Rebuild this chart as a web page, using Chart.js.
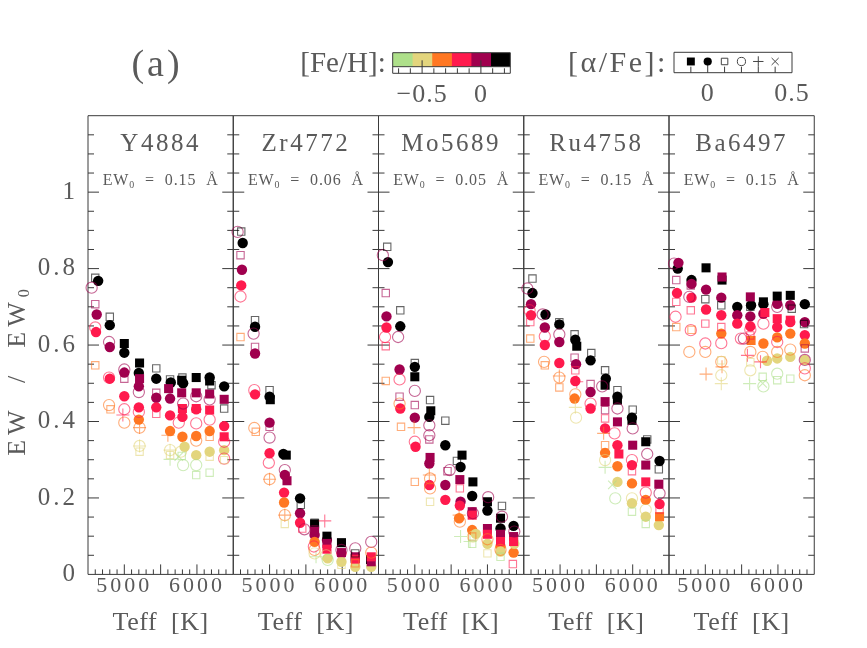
<!DOCTYPE html>
<html>
<head>
<meta charset="utf-8">
<script src="https://cdn.jsdelivr.net/npm/chart.js@4.4.1/dist/chart.umd.min.js"></script>
<style>
html, body { margin: 0; padding: 0; background: #fff; }
#wrap { position: relative; width: 867px; height: 648px; overflow: hidden; font-family: 'Liberation Serif', serif; color: #5a5a5a; }
#wrap canvas { position: absolute; left: 0; top: 0; }
.t { position: absolute; transform: translate(-50%, -50%); white-space: pre; line-height: 1; }
.t sub { font-size: 0.62em; vertical-align: -0.25em; }
</style>
</head>
<body>
<div id="wrap"></div>
<script>
// ---- categories / ticks ----
const PANEL_NAMES = ['Y4884', 'Zr4772', 'Mo5689', 'Ru4758', 'Ba6497'];
const PANEL_EW0 = ['0.15', '0.06', '0.05', '0.15', '0.15'];
const FEH_CODES = ['g', 'y', 'o', 'r', 'p', 'k'];
const FEH_VALUES = [-0.667, -0.5, -0.333, -0.167, 0, 0.167];
const FEH_COLORS = ['#aee08a', '#e3d57d', '#ff7722', '#ff1a4d', '#a0004e', '#000000'];
const FEH_TICKS = [-0.5, 0];
const ALPHA_CODES = ['S', 'C', 's', 'o', '+', 'x'];
const ALPHA_VALUES = [-0.1, 0, 0.1, 0.2, 0.3, 0.4];
const ALPHA_TICKS = [0, 0.5];
const TEFF_TICKS = [5000, 6000];
const EW_TICKS = [0, 0.2, 0.4, 0.6, 0.8, 1];

// ---- data: [Teff, EW/EW0, colour+marker code] ----
const Y4884 = [
  [4600,0.776,'ks'],[4640,0.768,'kC'],[4550,0.75,'po'],[4600,0.707,'ps'],[4620,0.68,'pC'],[4600,0.646,'ro'],[4610,0.634,'rC'],[4600,0.547,'os'],
  [4800,0.674,'ks'],[4800,0.652,'kC'],[4790,0.608,'po'],[4800,0.595,'pC'],[4790,0.515,'ro'],[4800,0.512,'rC'],[4790,0.443,'oo'],[4810,0.432,'os'],
  [5000,0.604,'kS'],[5000,0.58,'kC'],[5000,0.536,'po'],[5000,0.528,'pC'],[5000,0.512,'ps'],[5000,0.466,'rC'],[5000,0.432,'ro'],[4980,0.417,'r+'],[5000,0.397,'oo'],
  [5210,0.553,'kS'],[5200,0.527,'kC'],[5210,0.512,'pS'],[5200,0.492,'pC'],[5200,0.477,'po'],[5200,0.437,'rC'],[5200,0.425,'ro'],[5200,0.405,'oC'],[5210,0.384,'oo'],[5210,0.384,'o+'],[5210,0.336,'yo'],[5210,0.336,'y+'],[5210,0.321,'ys'],
  [5440,0.539,'ks'],[5440,0.512,'kC'],[5440,0.475,'ps'],[5440,0.462,'pC'],[5440,0.437,'rC'],[5440,0.42,'rs'],
  [5630,0.51,'ks'],[5640,0.502,'kC'],[5610,0.486,'pS'],[5630,0.46,'pC'],[5630,0.416,'rC'],[5630,0.375,'oC'],[5600,0.364,'o+'],[5630,0.325,'yo'],[5630,0.325,'y+'],[5630,0.312,'ys'],[5630,0.301,'g+'],
  [5800,0.515,'ks'],[5790,0.508,'kS'],[5810,0.5,'kC'],[5790,0.475,'pS'],[5810,0.447,'po'],[5800,0.434,'rS'],[5800,0.412,'rC'],[5750,0.397,'ro'],[5800,0.36,'oC'],[5830,0.334,'yC'],[5780,0.321,'yo'],[5750,0.308,'gx'],[5790,0.31,'gs'],[5810,0.286,'go'],
  [5990,0.515,'kS'],[5990,0.475,'pS'],[5990,0.466,'po'],[5990,0.434,'rS'],[5990,0.432,'rC'],[5990,0.395,'ro'],[5990,0.362,'oC'],[5990,0.35,'oo'],[5990,0.312,'yC'],[5990,0.286,'go'],[5990,0.26,'gs'],
  [6175,0.515,'kC'],[6175,0.506,'kS'],[6200,0.495,'ks'],[6175,0.472,'pS'],[6175,0.458,'po'],[6175,0.43,'rS'],[6175,0.405,'ro'],[6175,0.375,'oC'],[6175,0.36,'os'],[6175,0.321,'yC'],[6175,0.308,'ys'],[6175,0.266,'gs'],
  [6375,0.492,'kC'],[6375,0.458,'pS'],[6375,0.434,'ks'],[6375,0.388,'rC'],[6375,0.36,'rS'],[6375,0.347,'ro'],[6375,0.325,'yC'],[6375,0.303,'ro'],[6375,0.299,'ys']
];
const ZR4772 = [
  [4560,0.896,'po'],[4610,0.897,'ks'],[4630,0.867,'kC'],[4600,0.835,'ps'],[4620,0.797,'pC'],[4610,0.756,'rC'],[4600,0.727,'ro'],[4600,0.621,'os'],
  [4800,0.665,'ks'],[4800,0.648,'kC'],[4780,0.63,'po'],[4800,0.595,'ps'],[4800,0.578,'pC'],[4790,0.482,'ro'],[4800,0.471,'rC'],[4790,0.383,'oo'],[4810,0.373,'os'],
  [5000,0.482,'ks'],[5000,0.465,'kC'],[5010,0.457,'kS'],[5000,0.397,'pC'],[5000,0.386,'ps'],[5000,0.358,'po'],[5000,0.317,'rC'],[4990,0.292,'ro'],[5000,0.249,'oo'],[5000,0.249,'o+'],
  [5190,0.315,'kC'],[5230,0.312,'kS'],[5210,0.273,'po'],[5210,0.26,'pC'],[5240,0.245,'pS'],[5200,0.214,'rC'],[5200,0.188,'oC'],[5210,0.155,'oo'],[5210,0.155,'o+'],[5210,0.132,'ys'],
  [5420,0.199,'kC'],[5430,0.182,'ks'],[5420,0.16,'pC'],[5420,0.135,'rC'],[5450,0.12,'rs'],[5480,0.118,'po'],
  [5620,0.135,'ks'],[5620,0.132,'kS'],[5620,0.116,'pS'],[5620,0.103,'pC'],[5760,0.14,'r+'],[5620,0.085,'oC'],[5610,0.073,'ro'],[5620,0.064,'oo'],[5620,0.055,'yo'],[5640,0.046,'g+'],
  [5790,0.1,'kS'],[5790,0.09,'pC'],[5790,0.081,'pS'],[5790,0.066,'rS'],[5780,0.05,'yo'],[5800,0.042,'yC'],[5800,0.038,'go'],
  [5990,0.083,'kS'],[5990,0.064,'po'],[5990,0.057,'pS'],[5990,0.055,'rC'],[5990,0.033,'yC'],[5990,0.025,'ys'],
  [6180,0.068,'po'],[6180,0.055,'ks'],[6180,0.046,'pS'],[6180,0.042,'kS'],[6180,0.04,'rS'],[6180,0.029,'os'],[6180,0.02,'yC'],
  [6400,0.085,'po'],[6400,0.057,'oo'],[6400,0.046,'rS'],[6390,0.039,'kS'],[6400,0.033,'pS'],[6400,0.02,'yC']
];
const MO5689 = [
  [4620,0.857,'ks'],[4560,0.835,'po'],[4630,0.817,'kC'],[4600,0.736,'ps'],[4610,0.675,'pC'],[4610,0.646,'rC'],[4590,0.621,'ro'],[4600,0.597,'rs'],[4600,0.506,'os'],
  [4800,0.691,'ks'],[4800,0.649,'kC'],[4770,0.621,'po'],[4790,0.536,'pC'],[4790,0.51,'ro'],[4790,0.465,'ps'],[4790,0.447,'oo'],[4800,0.434,'rC'],[4810,0.386,'os'],
  [5000,0.553,'ks'],[5000,0.543,'kC'],[5000,0.517,'kS'],[5000,0.48,'po'],[5000,0.443,'ps'],[5000,0.41,'pC'],[4990,0.384,'o+'],[5000,0.347,'ro'],[5010,0.334,'rC'],[5000,0.242,'os'],
  [5210,0.456,'ks'],[5220,0.428,'kS'],[5200,0.412,'kC'],[5200,0.39,'po'],[5200,0.364,'po'],[5200,0.353,'ps'],[5210,0.306,'pS'],[5200,0.29,'pC'],[5200,0.26,'o+'],[5210,0.251,'oo'],[5200,0.234,'rC'],[5210,0.225,'oo'],[5210,0.19,'ys'],
  [5420,0.402,'ks'],[5420,0.338,'kC'],[5480,0.273,'po'],[5450,0.27,'ps'],[5420,0.234,'pC'],[5420,0.195,'rC'],
  [5650,0.312,'kS'],[5630,0.281,'kC'],[5580,0.297,'ks'],[5620,0.248,'pS'],[5620,0.225,'rs'],[5630,0.19,'pC'],[5620,0.18,'rC'],[5610,0.155,'o+'],[5610,0.147,'oC'],[5620,0.138,'oo'],[5630,0.099,'g+'],
  [5800,0.242,'kS'],[5790,0.205,'kC'],[5800,0.16,'po'],[5790,0.164,'pS'],[5790,0.155,'rS'],[5790,0.116,'oC'],[5840,0.106,'yC'],[5800,0.099,'yo'],[5790,0.099,'os'],[5760,0.086,'g+'],[5790,0.08,'gs'],
  [6010,0.202,'po'],[6000,0.19,'kS'],[6000,0.167,'kC'],[6000,0.12,'pS'],[6000,0.105,'rS'],[6000,0.092,'oo'],[6000,0.08,'yC'],[6000,0.055,'ys'],
  [6200,0.179,'ks'],[6200,0.151,'po'],[6180,0.147,'kS'],[6180,0.12,'kC'],[6180,0.105,'pS'],[6180,0.086,'rS'],[6180,0.073,'oC'],[6180,0.064,'oo'],[6180,0.06,'yC'],[6180,0.046,'gs'],
  [6360,0.127,'kC'],[6370,0.112,'po'],[6360,0.099,'pS'],[6360,0.086,'rS'],[6370,0.08,'yC'],[6360,0.057,'oC'],[6350,0.027,'rs']
];
const RU4758 = [
  [4620,0.774,'ks'],[4550,0.748,'po'],[4620,0.736,'kC'],[4600,0.707,'pC'],[4580,0.691,'ro'],[4600,0.678,'rC'],[4590,0.66,'rs'],[4590,0.617,'os'],
  [4760,0.68,'po'],[4800,0.68,'kC'],[4790,0.646,'pC'],[4790,0.623,'ro'],[4790,0.6,'rC'],[4780,0.556,'oo'],[4790,0.547,'os'],
  [4990,0.66,'ks'],[4990,0.654,'kC'],[4990,0.628,'po'],[4990,0.608,'pC'],[4990,0.553,'rC'],[4990,0.519,'o+'],[4990,0.515,'oo'],[4990,0.489,'os'],
  [5200,0.628,'ks'],[5210,0.614,'kC'],[5230,0.597,'kS'],[5200,0.567,'ps'],[5220,0.55,'pC'],[5210,0.534,'rs'],[5210,0.506,'rC'],[5230,0.504,'r+'],[5210,0.471,'oo'],[5200,0.46,'oC'],[5210,0.437,'y+'],[5220,0.41,'yo'],
  [5430,0.579,'ks'],[5420,0.56,'kC'],[5420,0.498,'ps'],[5420,0.477,'pC'],[5420,0.447,'ro'],[5420,0.434,'rC'],
  [5620,0.534,'ks'],[5630,0.512,'kC'],[5620,0.495,'kS'],[5580,0.492,'po'],[5620,0.452,'pS'],[5620,0.43,'ps'],[5620,0.408,'rs'],[5620,0.382,'rC'],[5600,0.369,'o+'],[5620,0.338,'os'],[5620,0.318,'oC'],[5620,0.299,'yo'],[5620,0.28,'g+'],
  [5790,0.482,'ks'],[5790,0.465,'kC'],[5790,0.456,'kS'],[5790,0.434,'po'],[5790,0.399,'pS'],[5750,0.369,'ro'],[5790,0.338,'rC'],[5810,0.315,'rS'],[5790,0.283,'oC'],[5790,0.242,'yC'],[5720,0.234,'gx'],[5760,0.199,'go'],
  [6000,0.431,'ks'],[5990,0.41,'kC'],[5990,0.403,'kS'],[6000,0.382,'po'],[6000,0.338,'pS'],[5990,0.299,'ro'],[5990,0.286,'rC'],[5990,0.27,'rs'],[5990,0.238,'oC'],[5990,0.199,'yo'],[5990,0.186,'yC'],[5990,0.164,'gs'],
  [6200,0.353,'ks'],[6180,0.347,'kS'],[6200,0.315,'po'],[6180,0.286,'pS'],[6180,0.242,'rS'],[6180,0.214,'ro'],[6180,0.195,'oC'],[6180,0.169,'yo'],[6180,0.151,'yC'],[6180,0.132,'gs'],
  [6370,0.297,'kC'],[6360,0.275,'ks'],[6360,0.236,'pS'],[6370,0.212,'po'],[6370,0.184,'rC'],[6370,0.17,'rs'],[6370,0.151,'oS'],[6360,0.129,'yC']
];
const BA6497 = [
  [4630,0.815,'pC'],[4570,0.813,'po'],[4620,0.8,'kC'],[4600,0.77,'ps'],[4610,0.736,'rC'],[4600,0.713,'rs'],[4590,0.674,'ro'],[4600,0.647,'os'],
  [4810,0.77,'kC'],[4810,0.76,'pC'],[4800,0.756,'ps'],[4780,0.726,'po'],[4810,0.724,'rC'],[4800,0.691,'rs'],[4800,0.639,'ro'],[4810,0.64,'os'],[4780,0.582,'oo'],
  [5010,0.802,'kS'],[5010,0.745,'pC'],[5000,0.72,'ks'],[5010,0.693,'rC'],[5000,0.656,'rs'],[5000,0.604,'ro'],[5000,0.582,'oo'],[5010,0.524,'o+'],
  [5230,0.778,'pS'],[5230,0.77,'kS'],[5220,0.724,'pC'],[5220,0.704,'ks'],[5220,0.678,'rC'],[5220,0.647,'rs'],[5220,0.63,'oC'],[5220,0.605,'ro'],[5220,0.56,'ys'],[5220,0.556,'oo'],[5230,0.543,'o+'],[5220,0.521,'yo'],[5220,0.499,'y+'],
  [5440,0.7,'kC'],[5440,0.678,'pC'],[5440,0.656,'rC'],[5490,0.617,'ro'],[5530,0.617,'po'],
  [5620,0.726,'pS'],[5630,0.704,'kC'],[5620,0.7,'ks'],[5620,0.675,'pC'],[5620,0.649,'rC'],[5620,0.64,'ro'],[5620,0.625,'rs'],[5630,0.612,'oS'],[5620,0.582,'oo'],[5580,0.573,'r+'],[5620,0.555,'ys'],[5620,0.534,'yo'],[5610,0.499,'g+'],
  [5800,0.713,'kS'],[5800,0.707,'kC'],[5820,0.685,'rS'],[5800,0.682,'pC'],[5800,0.656,'ro'],[5800,0.604,'oC'],[5790,0.569,'oo'],[5760,0.556,'r+'],[5850,0.559,'yC'],[5790,0.517,'gs'],[5790,0.5,'gx'],[5800,0.492,'go'],
  [5990,0.728,'kS'],[5990,0.708,'pC'],[5990,0.7,'po'],[5990,0.669,'rS'],[5990,0.647,'rC'],[5990,0.62,'oC'],[5990,0.608,'ro'],[5990,0.582,'oo'],[5990,0.565,'yC'],[5990,0.525,'go'],[5990,0.508,'gs'],
  [6170,0.73,'kS'],[6170,0.704,'pC'],[6190,0.695,'ks'],[6170,0.665,'rS'],[6170,0.66,'rC'],[6170,0.63,'oC'],[6170,0.588,'oo'],[6170,0.569,'yC'],[6170,0.512,'gs'],
  [6370,0.707,'kC'],[6370,0.66,'pC'],[6360,0.655,'ks'],[6370,0.626,'rC'],[6370,0.604,'oC'],[6370,0.591,'ps'],[6370,0.561,'po'],[6370,0.561,'yC'],[6370,0.539,'ro'],[6370,0.521,'oo']
];
const PANEL_DATA = [Y4884, ZR4772, MO5689, RU4758, BA6497];

// ---- layout ----
const W = 867, H = 648;
const PANEL_LEFT = 88, PANEL_W = 145.25, PANEL_TOP = 115.7, PANEL_BOTTOM = 574.4;
const AXIS_H = 40, AXIS_W = 70;   // fixed axis box sizes so chart areas land exactly
const FONT = "'Liberation Serif', serif";
const TEXT = '#5a5a5a';

const MARK = {
  S: { style: 'rect', r: 6.4, fill: true },
  C: { style: 'circle', r: 5.2, fill: true },
  s: { style: 'rect', r: 5.2, fill: false },
  o: { style: 'circle', r: 5.6, fill: false },
  '+': { style: 'cross', r: 6.5, fill: false },
  x: { style: 'crossRot', r: 6, fill: false }
};

function fade(hex, a) {
  const n = parseInt(hex.slice(1), 16);
  return `rgba(${n >> 16},${(n >> 8) & 255},${n & 255},${a})`;
}

function buildDatasets(rows) {
  const out = [];
  for (const m of ['s', 'o', '+', 'x', 'S', 'C']) {
    for (let f = 0; f < FEH_CODES.length; f++) {
      const code = FEH_CODES[f] + m;
      const pts = rows.filter(r => r[2] === code).map(r => ({ x: r[0], y: r[1] }));
      if (!pts.length) continue;
      const st = MARK[m];
      const col = st.fill ? FEH_COLORS[f] : fade(FEH_COLORS[f], 0.6);
      out.push({
        data: pts, clip: false,
        pointStyle: st.style, pointRadius: st.r,
        pointBackgroundColor: st.fill ? col : 'rgba(0,0,0,0)',
        pointBorderColor: col, pointBorderWidth: st.fill ? 0 : 1.1
      });
    }
  }
  return out;
}

// wide Hershey-like spacing for tick labels
const spacedText = px => ({
  id: 'spacedText',
  beforeDraw(chart) { chart.ctx.letterSpacing = px + 'px'; }
});

// frame + inward ticks (left, right, bottom)
const panelFrame = {
  id: 'panelFrame',
  beforeDatasetsDraw(chart) {
    const { ctx, chartArea: a, scales: { x, y } } = chart;
    ctx.save();
    ctx.strokeStyle = '#3a3a3a';
    ctx.lineWidth = 1;
    ctx.beginPath();
    ctx.rect(a.left, a.top, a.right - a.left, a.bottom - a.top);
    for (let t = 4600; t <= 6400; t += 100) {
      const px = x.getPixelForValue(t);
      const len = t % 500 === 0 ? 10 : 5;
      ctx.moveTo(px, a.bottom); ctx.lineTo(px, a.bottom - len);
    }
    for (let k = 1; k < 24; k++) {
      const py = y.getPixelForValue(k * 0.05);
      const len = k % 4 === 0 ? 11 : 6;
      ctx.moveTo(a.left, py); ctx.lineTo(a.left + len, py);
      ctx.moveTo(a.right, py); ctx.lineTo(a.right - len, py);
    }
    ctx.stroke();
    ctx.restore();
  }
};

const wrap = document.getElementById('wrap');
function addCanvas() {
  const c = document.createElement('canvas');
  c.width = W; c.height = H;
  wrap.appendChild(c);
  return c;
}
function addText(html, x, y, size, extra) {
  const d = document.createElement('div');
  d.className = 't';
  d.innerHTML = html;
  d.style.left = x + 'px';
  d.style.top = y + 'px';
  d.style.fontSize = size + 'px';
  if (extra) Object.assign(d.style, extra);
  wrap.appendChild(d);
  return d;
}

// ---- panels ----
PANEL_NAMES.forEach((name, i) => {
  const left = PANEL_LEFT + i * PANEL_W;
  const right = left + PANEL_W;
  new Chart(addCanvas(), {
    type: 'scatter',
    data: { datasets: buildDatasets(PANEL_DATA[i]) },
    options: {
      responsive: false, animation: false, events: [],
      layout: { padding: { left: left - AXIS_W, right: W - right, top: PANEL_TOP, bottom: H - PANEL_BOTTOM - AXIS_H } },
      plugins: { legend: { display: false }, tooltip: { enabled: false } },
      scales: {
        x: {
          type: 'linear', min: 4500, max: 6500,
          afterFit: s => { s.height = AXIS_H; },
          afterBuildTicks: s => { s.ticks = TEFF_TICKS.map(v => ({ value: v })); },
          grid: { display: false, drawTicks: false }, border: { display: false },
          ticks: { color: TEXT, font: { family: FONT, size: 22 }, padding: -1, maxRotation: 0, autoSkip: false, callback: v => String(v) }
        },
        y: {
          type: 'linear', min: 0, max: 1.2,
          afterFit: s => { s.width = AXIS_W; },
          afterBuildTicks: s => { s.ticks = EW_TICKS.map(v => ({ value: v })); },
          grid: { display: false, drawTicks: false }, border: { display: false },
          ticks: { display: i === 0, color: TEXT, font: { family: FONT, size: 25 }, padding: 10, callback: v => String(v) }
        }
      }
    },
    plugins: [spacedText(3), panelFrame]
  });
  const cx = left + PANEL_W / 2;
  addText(name, cx, 142, 25, { letterSpacing: '2.5px' });
  addText('EW<sub>0</sub>  =  ' + PANEL_EW0[i] + '  Å', cx, 181, 16, { letterSpacing: '0.9px' });
  addText('Teff  [K]', cx, 622, 26, { letterSpacing: '0.5px' });
});

addText('EW  /  EW<sub>0</sub>', 18, 370, 26, { transform: 'translate(-50%,-50%) rotate(-90deg)', letterSpacing: '5px' });

// ---- [Fe/H] colour bar ----
const CB = { left: 392.7, right: 510.3, top: 52.7, bottom: 66.7, strip: 6.6 };
new Chart(addCanvas(), {
  type: 'bar',
  data: {
    labels: [''],
    datasets: FEH_VALUES.map((f, i) => ({
      data: [[f - 1 / 12, f + 1 / 12]], backgroundColor: FEH_COLORS[i], borderWidth: 0,
      grouped: false, barPercentage: 1, categoryPercentage: 1
    }))
  },
  options: {
    indexAxis: 'y', responsive: false, animation: false, events: [],
    layout: { padding: { left: CB.left, right: W - CB.right, top: CB.top, bottom: H - CB.bottom - AXIS_H } },
    plugins: { legend: { display: false }, tooltip: { enabled: false } },
    scales: {
      y: { display: false },
      x: {
        type: 'linear', min: -0.75, max: 0.25,
        afterFit: s => { s.height = AXIS_H; },
        afterBuildTicks: s => { s.ticks = FEH_TICKS.map(v => ({ value: v })); },
        grid: { display: false, drawTicks: false }, border: { display: false },
        ticks: { color: TEXT, font: { family: FONT, size: 26 }, padding: 13, maxRotation: 0, autoSkip: false,
          callback: v => v === 0 ? '0' : String(v).replace('-', '\u2212') }
      }
    }
  },
  plugins: [spacedText(1), {
    id: 'cbFrame',
    afterDatasetsDraw(chart) {
      const { ctx, chartArea: a, scales: { x } } = chart;
      const bot = a.bottom + CB.strip;
      ctx.save();
      ctx.strokeStyle = '#3a3a3a'; ctx.lineWidth = 1;
      ctx.beginPath();
      ctx.rect(a.left, a.top, a.right - a.left, bot - a.top);
      ctx.moveTo(a.left, a.bottom); ctx.lineTo(a.right, a.bottom);
      for (let k = -7; k <= 2; k++) {
        const px = x.getPixelForValue(k / 10);
        const len = (k === -5 || k === 0) ? 13 : 5;
        ctx.moveTo(px, bot); ctx.lineTo(px, bot - len);
      }
      ctx.stroke();
      ctx.restore();
    }
  }]
});
addText('[Fe/H]:', 343, 62, 29, {});

// ---- [alpha/Fe] marker key ----
const AK = { left: 674, right: 792, top: 52.3, bottom: 72.7 };
const KEY_MARK = {
  S: { style: 'rect', r: 5.6, fill: true },
  C: { style: 'circle', r: 4.1, fill: true },
  s: { style: 'rect', r: 4.6, fill: false },
  o: { style: 'circle', r: 4.1, fill: false },
  '+': { style: 'cross', r: 5.2, fill: false },
  x: { style: 'crossRot', r: 5, fill: false }
};
new Chart(addCanvas(), {
  type: 'scatter',
  data: {
    datasets: ALPHA_CODES.map((m, i) => {
      const st = KEY_MARK[m];
      return {
        data: [{ x: ALPHA_VALUES[i], y: 0.1 }], clip: false,
        pointStyle: st.style, pointRadius: st.r,
        pointBackgroundColor: st.fill ? '#000' : 'rgba(0,0,0,0)',
        pointBorderColor: st.fill ? '#000' : '#444', pointBorderWidth: st.fill ? 0 : 1
      };
    })
  },
  options: {
    responsive: false, animation: false, events: [],
    layout: { padding: { left: AK.left, right: W - AK.right, top: AK.top, bottom: H - AK.bottom - AXIS_H } },
    plugins: { legend: { display: false }, tooltip: { enabled: false } },
    scales: {
      y: { display: false, min: -1, max: 1 },
      x: {
        type: 'linear', min: -0.2, max: 0.5,
        afterFit: s => { s.height = AXIS_H; },
        afterBuildTicks: s => { s.ticks = ALPHA_TICKS.map(v => ({ value: v })); },
        grid: { display: false, drawTicks: false }, border: { display: false },
        ticks: { color: TEXT, font: { family: FONT, size: 26 }, padding: 6, maxRotation: 0, autoSkip: false, callback: v => String(v) }
      }
    }
  },
  plugins: [spacedText(1), {
    id: 'akFrame',
    beforeDatasetsDraw(chart) {
      const { ctx, chartArea: a, scales: { x } } = chart;
      ctx.save();
      ctx.strokeStyle = '#3a3a3a'; ctx.lineWidth = 1;
      ctx.beginPath();
      ctx.rect(a.left, a.top, a.right - a.left, a.bottom - a.top);
      for (let k = -1; k <= 4; k++) {
        const px = x.getPixelForValue(k / 10);
        const len = k === 0 ? 10 : 6;
        ctx.moveTo(px, a.bottom); ctx.lineTo(px, a.bottom - len);
      }
      ctx.stroke();
      ctx.restore();
    }
  }]
});
addText('[α/Fe]:', 618, 62, 30, { letterSpacing: '2.5px' });
addText('(a)', 157, 63, 38, { letterSpacing: '3px' });
</script>
</body>
</html>
